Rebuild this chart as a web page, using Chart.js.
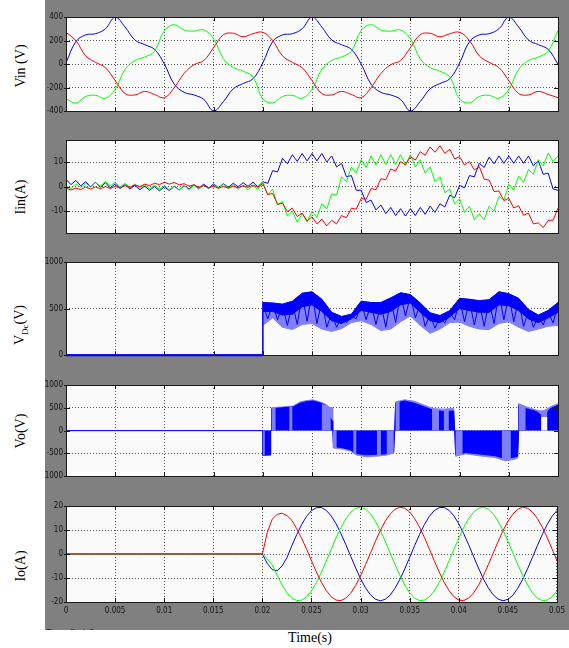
<!DOCTYPE html>
<html>
<head>
<meta charset="utf-8">
<script src="https://cdn.jsdelivr.net/npm/chart.js@4.4.0/dist/chart.umd.min.js"></script>
<style>
  body { margin: 0; background: #fff; width: 569px; height: 648px; position: relative; overflow: hidden;
         font-family: "Liberation Serif", "Times New Roman", serif; }
  #scope { position: absolute; left: 45px; top: 0; width: 524px; height: 630px; background: #808080; overflow: hidden; }
  #offset { position: absolute; left: 1px; top: 627px; font: 8px "Liberation Sans", sans-serif; color: #000; }
  canvas { position: absolute; left: 45px; }
  .ylab { position: absolute; left: 21px; transform: translate(-50%, -50%) rotate(-90deg); white-space: nowrap; font-size: 14px; color: #000; }
  .ylab sub { font-size: 9px; }
  #xlab { position: absolute; left: 310px; top: 638px; transform: translate(-50%, -50%); font-size: 14px; color: #000; }
</style>
</head>
<body>
<div id="scope"><div id="offset">Time offset: 0</div></div>
<canvas id="vin" width="524" height="110" style="top:9px"></canvas>
<canvas id="iin" width="524" height="109" style="top:132px"></canvas>
<canvas id="vdc" width="524" height="109" style="top:254px"></canvas>
<canvas id="vo" width="524" height="107" style="top:377px"></canvas>
<canvas id="io" width="524" height="126" style="top:498px"></canvas>
<div class="ylab" style="top:66px">Vin (V)</div>
<div class="ylab" style="top:197px">Iin(A)</div>
<div class="ylab" style="top:325px">V<sub>Dc</sub>(V)</div>
<div class="ylab" style="top:431px">Vo(V)</div>
<div class="ylab" style="top:566px">Io(A)</div>
<div id="xlab">Time(s)</div>

<script>
// time axis (ms) and its labels in seconds
const xTicks = [0, 5, 10, 15, 20, 25, 30, 35, 40, 45, 50];
const xTickLabels = ['0', '0.005', '0.01', '0.015', '0.02', '0.025', '0.03', '0.035', '0.04', '0.045', '0.05'];

// Vin (V), every 1 ms
const vinTimeMs = [0,1,2,3,4,5,6,7,8,9,10,11,12,13,14,15,16,17,18,19,20,21,22,23,24,25,26,27,28,29,30,31,32,33,34,35,36,37,38,39,40,41,42,43,44,45,46,47,48,49,50];
const vinBlue = [10,190,248,258,300,398,315,205,165,125,0,-170,-240,-262,-300,-398,-318,-210,-165,-125,
                 10,190,248,258,300,398,315,205,165,125,0,-170,-240,-262,-300,-398,-318,-210,-165,-125,
                 10,190,248,258,300,398,315,205,165,125,0];
const vinRed = [270,200,70,15,-30,-140,-250,-262,-232,-258,-285,-200,-80,-5,30,140,250,262,232,258,
                270,200,70,15,-30,-140,-250,-262,-232,-258,-285,-200,-80,-5,30,140,250,262,232,258,
                270,200,70,15,-30,-140,-250,-262,-232,-258,-285];
const vinGreen = [-295,-330,-275,-265,-290,-215,-45,30,60,110,285,335,290,280,290,215,45,-30,-60,-110,
                  -295,-330,-275,-265,-290,-215,-45,30,60,110,285,335,290,280,290,215,45,-30,-60,-110,
                  -295,-330,-275,-265,-290,-215,-45,30,60,110,285];
const vinTicks = [-400, -200, 0, 200, 400];

// Iin (A), every 0.5 ms
const iinTimeMs = [0,0.5,1,1.5,2,2.5,3,3.5,4,4.5,5,5.5,6,6.5,7,7.5,8,8.5,9,9.5,10,10.5,11,11.5,12,12.5,13,13.5,14,14.5,
  15,15.5,16,16.5,17,17.5,18,18.5,19,19.5,20,20.5,21,21.5,22,22.5,23,23.5,24,24.5,25,25.5,26,26.5,27,27.5,28,28.5,29,29.5,
  30,30.5,31,31.5,32,32.5,33,33.5,34,34.5,35,35.5,36,36.5,37,37.5,38,38.5,39,39.5,40,40.5,41,41.5,42,42.5,43,43.5,44,44.5,
  45,45.5,46,46.5,47,47.5,48,48.5,49,49.5,50];
const iinBlue = [3,0.8,2.5,0.3,2,-0.1,1.8,-0.3,1.6,-0.5,1.1,-0.7,0.8,-1,0.5,-1.3,0.2,-1.5,0,-1.7,
  -0.1,-1.6,0.1,-1.4,0.4,-1,0.8,-0.7,1,-0.6,1.1,-0.5,1.2,-0.3,1.4,-0.1,1.6,0.1,1.8,-0.1,
  2,1.3,6.5,6,11.5,9.3,13,10.3,13.5,10.5,13.5,10.5,13.5,10,12.5,8,9.5,4,4.5,-1.5,
  -1.5,-6.5,-5.5,-9.5,-7.5,-11,-8.5,-11.8,-9,-12,-9,-11.8,-8.5,-11.3,-8,-10.5,-7,-8.3,-3.5,-4.5,
  0.5,-0.5,4.5,4,9.5,7.8,12,9.3,12.5,9.5,12.5,9.5,12.5,9.5,12.5,8.5,10.5,5,5.5,-1,-1.5];
const iinRed = [-0.6,-1.4,-0.6,-1.2,-0.2,-1,-0.1,-0.9,0,-0.8,0.1,-0.6,0.4,-0.3,0.7,0,1,0.4,1.4,0.8,
  1.8,1,1.7,0.7,1.2,0.2,0.7,-0.3,0.4,-0.5,0.2,-0.7,0.1,-0.7,0.2,-0.5,0.4,-0.3,0.6,-0.3,
  1.2,-3.2,-2.8,-7.2,-6.8,-10.2,-8.8,-12.2,-10.8,-14,-12.3,-15.2,-13.3,-16,-13.8,-15.2,-11.8,-12.7,-8.8,-9.2,
  -4.8,-5.2,-0.8,-1.2,3.2,2.8,7.2,6.3,10.2,8.8,12.2,10.8,14.2,12.8,16.2,14,16.7,13.6,15.2,11.3,
  12.2,8.8,10.2,6.8,8.2,3,2.7,-2,-1.8,-5.7,-4.8,-8.7,-7.8,-11.7,-10.8,-15.2,-14.8,-16.7,-13.8,-13.7,-8.8];
const iinGreen = [0.3,-0.9,1.1,-0.4,1.4,-0.1,1.6,0.2,2,0.3,1.7,-0.1,1.3,-0.4,1.1,-0.7,0.8,-0.9,0.6,-1.1,
  0.4,-1.3,0.3,-1.3,0.4,-1.2,0.5,-1.1,0.6,-0.9,0.8,-0.7,1,-0.7,0.8,-1,0.5,-1.2,0.3,-1.1,
  2,-3.5,-1,-7.5,-6,-12,-10,-14.5,-11,-14.5,-10,-12.5,-7,-9,-3,-3.5,4,2,8,5.5,
  11,7.8,12.5,8.8,13,9,13,9,13,9,13,8,11,5.5,8,2,4,-2.5,-1,-7,
  -5,-10.5,-8,-13.5,-11,-13.5,-8,-10,-4,-5.5,1,-1.4,4.3,1.7,7,5,11,8.4,13.7,10.2,12.6];
const iinTicks = [-10, 0, 10];

// VDC (V): envelopes of the switching band, every 1 ms after the 0.02 s step
const vdcTimeMs = [0,20,20,21,22,23,24,25,26,27,28,29,30,31,32,33,34,35,36,37,38,39,40,41,42,43,44,45,46,47,48,49,50];
const vdcUpper = [0,0,565,560,548,578,665,680,600,460,415,440,580,565,565,615,670,650,560,455,425,478,610,600,585,595,680,660,610,490,430,480,565];
const vdcDark = [0,0,470,470,430,440,520,540,470,370,340,390,480,460,440,470,540,560,460,370,350,410,500,480,460,460,540,530,480,390,350,400,460];
const vdcLower = [0,0,320,400,300,275,330,340,280,255,285,350,370,330,265,280,360,420,320,235,280,350,355,310,280,275,340,360,300,255,280,310,320];
const vdcStrokeTimeMs = [20,20.5,21,21.5,22,22.5,23,23.5,24,24.5,25,25.5,26,26.5,27,27.5,28,28.5,29,29.5,30,30.5,31,31.5,32,32.5,33,33.5,34,34.5,
  35,35.5,36,36.5,37,37.5,38,38.5,39,39.5,40,40.5,41,41.5,42,42.5,43,43.5,44,44.5,45,45.5,46,46.5,47,47.5,48,48.5,49,49.5,50];
const vdcStroke = [550,390,545,380,533,320,563,330,650,365,665,340,585,300,445,300,400,350,425,390,
  565,380,550,330,550,300,600,350,655,420,635,400,545,310,440,290,410,345,463,380,
  595,360,585,325,570,310,580,340,665,380,645,360,595,310,475,300,415,325,465,345,550];
const vdcTicks = [0, 500, 1000];

// Vo (V): outer (light) and inner (dark) envelopes of the PWM blocks
const voTimeMs = [0,20,20,20.8,20.8,20.9,20.9,22,23.1,23.8,24.5,25.1,25.8,26.3,26.8,27.1,27.1,27.2,28.2,28.9,29.5,30.5,31.5,32.5,33.3,33.4,
  33.5,34.4,35.4,36.4,37.4,38.4,39.4,39.5,39.6,40.6,42.3,43.6,44.6,45.6,45.9,46,46,46.8,47.8,48.5,49.2,50];
const voLight = [0,0,-540,-540,0,0,500,520,540,630,660,675,630,590,510,500,0,-380,-410,-450,-535,-575,-560,-540,-490,0,
  630,675,645,560,480,470,490,0,-560,-510,-560,-590,-660,-630,-600,0,590,520,450,420,520,590];
const voDark = [0,0,-540,-530,0,0,480,500,520,600,640,650,610,560,300,200,0,-350,-380,-420,-500,-530,-520,-510,-470,0,
  600,650,600,520,440,420,430,0,-530,-480,-520,-550,-610,-580,-560,0,560,480,420,300,480,560];
// lighter switching stripes inside the blocks
const voStripeTimeMs = [0,20,20,20.2,20.2,20.9,20.9,21.3,21.3,22.7,22.7,23,23,26,26,26.9,26.9,27.1,27.1,27.5,27.5,
  29.2,29.2,29.5,29.5,31.6,31.6,32,32,32.6,32.6,33.3,33.3,33.5,33.5,33.9,33.9,37.2,37.2,37.9,37.9,38.4,38.4,38.9,38.9,
  39.6,39.6,40.3,40.3,44.3,44.3,45.2,45.2,46,46,46.7,46.7,48.3,48.3,48.9,48.9,50];
const voStripe = [0,0,-540,-540,0,0,500,500,0,0,530,530,0,0,590,505,0,0,-380,-390,0,
  0,-480,-535,0,0,-560,-555,0,0,-540,-490,0,0,630,650,0,0,480,470,0,0,470,480,0,
  0,-560,-520,0,0,-640,-650,0,0,590,530,0,0,440,470,0,0];
const voGapTimeMs = [0,48.3,48.3,48.9,48.9,50];
const voGap = [0,0,300,300,0,0];
const voTicks = [-1000, -500, 0, 500, 1000];

// Io (A), every 0.5 ms after 0.02 s
const ioTimeMs = [0,20,20.5,21,21.5,22,22.5,23,23.5,24,24.5,25,25.5,26,26.5,27,27.5,28,28.5,29,29.5,
  30,30.5,31,31.5,32,32.5,33,33.5,34,34.5,35,35.5,36,36.5,37,37.5,38,38.5,39,39.5,
  40,40.5,41,41.5,42,42.5,43,43.5,44,44.5,45,45.5,46,46.5,47,47.5,48,48.5,49,49.5,50];
const ioRed = [0,0,9,14.5,16.5,17,16,14,10.5,6.5,2,-2.8,-7.5,-11.7,-15.2,-17.8,-19.2,-19.4,-18.4,-16.3,-13.1,
  -9.1,-4.5,0.3,5.2,9.7,13.6,16.6,18.6,19.5,19.1,17.5,14.8,11.2,6.9,2.1,-2.8,-7.5,-11.7,-15.2,-17.8,
  -19.2,-19.4,-18.4,-16.3,-13.1,-9.1,-4.5,0.3,5.2,9.7,13.6,16.6,18.6,19.5,19.1,17.5,14.8,11.2,6.9,2.1,-2.8];
const ioBlue = [0,0,-4,-6.5,-7,-5,-1.5,3.5,8.1,12.3,15.7,18.1,19.3,19.4,18.2,15.9,12.6,8.5,3.9,-1,-5.8,
  -10.3,-14.1,-17,-18.8,-19.5,-18.9,-17.2,-14.3,-10.6,-6.2,-1.4,3.5,8.1,12.3,15.7,18.1,19.3,19.4,18.2,15.9,
  12.6,8.5,3.9,-1,-5.8,-10.3,-14.1,-17,-18.8,-19.5,-18.9,-17.2,-14.3,-10.6,-6.2,-1.4,3.5,8.1,12.3,15.7,18.1];
const ioGreen = [0,0,-2,-4.5,-8.9,-12.9,-16.2,-18.4,-19.4,-19.2,-17.9,-15.4,-11.9,-7.7,-3,1.9,6.7,11,14.7,17.4,19,
  19.5,18.7,16.8,13.7,9.9,5.4,0.5,-4.3,-8.9,-12.9,-16.2,-18.4,-19.4,-19.2,-17.9,-15.4,-11.9,-7.7,-3,1.9,
  6.7,11,14.7,17.4,19,19.5,18.7,16.8,13.7,9.9,5.4,0.5,-4.3,-8.9,-12.9,-16.2,-18.4,-19.4,-19.2,-17.9,-15.4];
const ioTicks = [-20, -10, 0, 10, 20];

const BLUE = '#0000ff', RED = '#ff0000', GREEN = '#00ff00', LIGHT = '#8080ff', PAPER = '#fbfbfb';

function pts(times, values) {
  return times.map((t, i) => ({ x: t, y: values[i] }));
}

function line(times, values, color, extra) {
  return Object.assign({
    data: pts(times, values), borderColor: color, backgroundColor: color,
    borderWidth: 1, pointRadius: 0, fill: false, tension: 0
  }, extra || {});
}

// plot background, frame and the inward tick marks of the scope
const scopeStyle = {
  id: 'scopeStyle',
  beforeDraw(chart) {
    const { ctx, chartArea: a } = chart;
    ctx.save();
    ctx.fillStyle = PAPER;
    ctx.fillRect(a.left, a.top, a.right - a.left, a.bottom - a.top);
    ctx.restore();
  },
  afterDraw(chart) {
    const { ctx, chartArea: a, scales } = chart;
    ctx.save();
    ctx.strokeStyle = '#1a1a1a';
    ctx.lineWidth = 1;
    ctx.beginPath();
    scales.x.ticks.forEach(t => {
      const x = Math.round(scales.x.getPixelForValue(t.value)) + 0.5;
      ctx.moveTo(x, a.top); ctx.lineTo(x, a.top + 4);
      ctx.moveTo(x, a.bottom); ctx.lineTo(x, a.bottom - 4);
    });
    scales.y.ticks.forEach(t => {
      const y = Math.round(scales.y.getPixelForValue(t.value)) + 0.5;
      ctx.moveTo(a.left - 2, y); ctx.lineTo(a.left + 4, y);
      ctx.moveTo(a.right, y); ctx.lineTo(a.right - 4, y);
    });
    ctx.stroke();
    ctx.strokeRect(Math.round(a.left) + 0.5, Math.round(a.top) + 0.5, Math.round(a.right - a.left), Math.round(a.bottom - a.top));
    ctx.restore();
  }
};

const tickFont = { family: "'DejaVu Sans Condensed', 'Liberation Sans Narrow', 'DejaVu Sans', sans-serif", size: 8, weight: 'condensed' };

function makeChart(id, datasets, yMin, yMax, yTicks, showX) {
  return new Chart(document.getElementById(id), {
    type: 'line',
    data: { datasets },
    options: {
      responsive: false,
      animation: false,
      events: [],
      layout: { padding: { top: 8, right: 11, left: 0, bottom: 0 } },
      plugins: { legend: { display: false }, tooltip: { enabled: false } },
      scales: {
        x: {
          type: 'linear', min: 0, max: 50,
          afterBuildTicks: s => { s.ticks = xTicks.map(v => ({ value: v })); },
          afterFit: s => { s.height = showX ? 22 : 6; },
          ticks: {
            display: showX, autoSkip: false, maxRotation: 0, minRotation: 0, padding: 4,
            color: '#111', font: tickFont,
            callback: (v) => xTickLabels[xTicks.indexOf(v)]
          },
          grid: { color: '#5a5a5a', drawTicks: false },
          border: { display: false, dash: [1, 2] }
        },
        y: {
          min: yMin, max: yMax,
          afterBuildTicks: s => { s.ticks = yTicks.map(v => ({ value: v })); },
          afterFit: s => { s.width = 21; },
          ticks: { padding: 3, color: '#111', font: tickFont, callback: v => String(v) },
          grid: { color: '#5a5a5a', drawTicks: false },
          border: { display: false, dash: [1, 2] }
        }
      }
    },
    plugins: [scopeStyle]
  });
}

// Chart.js paints the first dataset on top, so the top layer is listed first
makeChart('vin', [
  line(vinTimeMs, vinRed, RED, { tension: 0.4 }),
  line(vinTimeMs, vinGreen, GREEN, { tension: 0.4 }),
  line(vinTimeMs, vinBlue, BLUE, { tension: 0.4 })
], -400, 400, vinTicks, false);

makeChart('iin', [
  line(iinTimeMs, iinRed, RED),
  line(iinTimeMs, iinGreen, GREEN),
  line(iinTimeMs, iinBlue, BLUE)
], -19, 19, iinTicks, false);

makeChart('vdc', [
  line([0, 20], [0, 0], BLUE, { borderWidth: 2, clip: 3 }),
  line(vdcStrokeTimeMs, vdcStroke, BLUE),
  line(vdcTimeMs, vdcUpper, BLUE, { fill: '+1', backgroundColor: BLUE }),
  line(vdcTimeMs, vdcDark, BLUE),
  line(vdcTimeMs, vdcUpper, LIGHT, { fill: '+1', backgroundColor: LIGHT }),
  line(vdcTimeMs, vdcLower, LIGHT)
], 0, 1000, vdcTicks, false);

makeChart('vo', [
  line(voGapTimeMs, voGap, PAPER, { fill: 'origin', borderWidth: 0 }),
  line(voStripeTimeMs, voStripe, LIGHT, { fill: 'origin', borderWidth: 0 }),
  line(voTimeMs, voDark, BLUE, { fill: 'origin', backgroundColor: BLUE }),
  line(voTimeMs, voLight, LIGHT, { fill: 'origin', backgroundColor: LIGHT })
], -1000, 1000, voTicks, false);

makeChart('io', [
  line(ioTimeMs, ioRed, RED),
  line(ioTimeMs, ioGreen, GREEN),
  line(ioTimeMs, ioBlue, BLUE)
], -20, 20, ioTicks, true);
</script>
</body>
</html>
